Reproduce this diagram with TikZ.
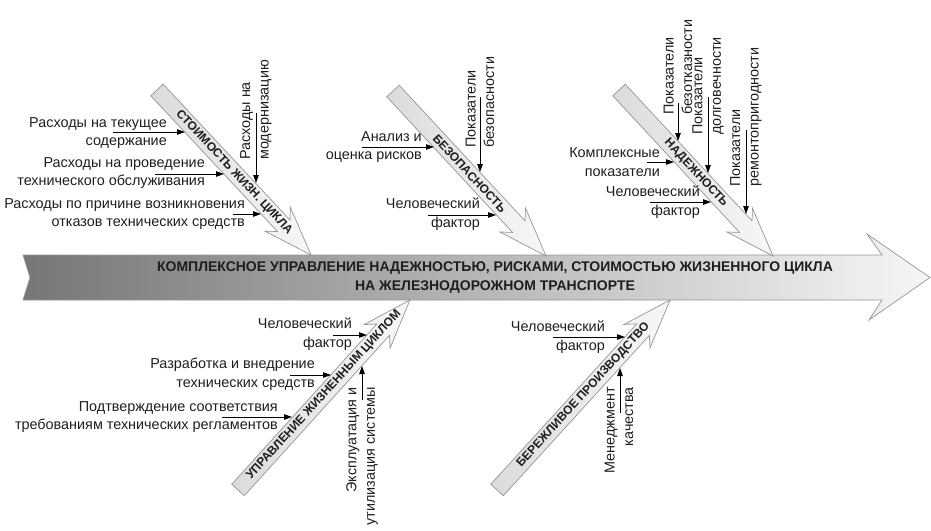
\documentclass[tikz,border=0pt]{standalone}
\usepackage{fontspec}
\setmainfont{Liberation Sans}
\usetikzlibrary{arrows.meta}
\definecolor{maindark}{RGB}{118,118,118}
\definecolor{mainlight}{RGB}{246,246,246}
\definecolor{edgegray}{RGB}{150,150,150}
\definecolor{txt}{RGB}{30,30,30}
\newcommand\fishbone[4]{%
  \draw[bonebody,shift={(#1,#2)},rotate=#3]
    (0,-8.5) -- (#4-40,-8.5) -- (#4-49,-17.5) -- (#4,0) -- (#4-49,17.5) -- (#4-40,8.5) -- (0,8.5) -- cycle;}
\begin{document}
\begin{tikzpicture}[x=1pt,y=-1pt,
  cause/.style={font=\fontsize{14.4}{18.5}\selectfont, inner sep=0pt, text=txt},
  causeR/.style={cause, align=right, anchor=east},
  causeV/.style={cause, align=left, anchor=west, rotate=90},
  causeVb/.style={cause, align=right, anchor=east, rotate=90},
  carrow/.style={line width=0.9pt, black, -{Triangle[length=8pt,width=5.5pt]}},
  bonebody/.style={draw=edgegray, line width=0.7pt, left color=gray!28, right color=gray!6},
  bonelabel/.style={font=\bfseries\fontsize{12}{12}\selectfont, text=txt, inner sep=0pt, sloped},
  mainlabel/.style={font=\bfseries\fontsize{14}{19}\selectfont, text=txt, align=center, inner sep=0pt}
  ]
\useasboundingbox (0,0) rectangle (931,530);

% main arrow
\draw[draw=edgegray, line width=0.7pt, left color=maindark, right color=mainlight]
  (23,255) -- (882,255) -- (867,234) -- (930,277.5) -- (869,320) -- (882,300) -- (23,300) -- (30,277.5) -- cycle;
\node[mainlabel] (main) at (495,277.5) {КОМПЛЕКСНОЕ УПРАВЛЕНИЕ НАДЕЖНОСТЬЮ, РИСКАМИ, СТОИМОСТЬЮ ЖИЗНЕННОГО ЦИКЛА\\НА ЖЕЛЕЗНОДОРОЖНОМ ТРАНСПОРТЕ};

% bones
\coordinate (b1t) at (157,90);  \coordinate (b1h) at (311,255);
\coordinate (b2t) at (393,91);  \coordinate (b2h) at (546,256);
\coordinate (b3t) at (619,90);  \coordinate (b3h) at (773,256);
\coordinate (b4t) at (238,490); \coordinate (b4h) at (410,300);
\coordinate (b5t) at (497,490); \coordinate (b5h) at (670,300);
\fishbone{157}{90}{-46.97}{225.7}
\fishbone{393}{91}{-47.16}{225.0}
\fishbone{619}{90}{-47.15}{226.4}
\fishbone{238}{490}{47.85}{256.3}
\fishbone{497}{490}{47.68}{257.0}
\path (b1t) -- (b1h) node[bonelabel, pos=0.5] (l1) {СТОИМОСТЬ ЖИЗН. ЦИКЛА};
\path (b2t) -- (b2h) node[bonelabel, pos=0.5] (l2) {БЕЗОПАСНОСТЬ};
\path (b3t) -- (b3h) node[bonelabel, pos=0.5] (l3) {НАДЕЖНОСТЬ};
\path (b4t) -- (b4h) node[bonelabel, pos=0.5] (l4) {УПРАВЛЕНИЕ ЖИЗНЕННЫМ ЦИКЛОМ};
\path (b5t) -- (b5h) node[bonelabel, pos=0.5] (l5) {БЕРЕЖЛИВОЕ ПРОИЗВОДСТВО};

% causes: bone 1
\node[causeR] (t11) at (167,133) {Расходы на текущее\\содержание};
\node[causeR] (t12) at (205,173) {Расходы на проведение\\технического обслуживания};
\node[causeR] (t13) at (245,214) {Расходы по причине возникновения\\отказов технических средств};
\node[causeV] (t14) at (256,160) {Расходы на\\модернизацию};
\coordinate (c11s) at (113,132); \coordinate (c11e) at (185,132);
\coordinate (c12s) at (155,174); \coordinate (c12e) at (224,174);
\coordinate (c13s) at (233,214); \coordinate (c13e) at (261,214);
\coordinate (c14s) at (256,113); \coordinate (c14e) at (256,183);
\draw[carrow] (c11s) -- (c11e);
\draw[carrow] (c12s) -- (c12e);
\draw[carrow] (c13s) -- (c13e);
\draw[carrow] (c14s) -- (c14e);

% causes: bone 2
\node[causeR] (t21) at (422,147) {Анализ и\\оценка рисков};
\node[causeR] (t22) at (480,214) {Человеческий\\фактор};
\node[causeV] (t23) at (480,148) {Показатели\\безопасности};
\coordinate (c21s) at (362,147); \coordinate (c21e) at (434,147);
\coordinate (c22s) at (428,215); \coordinate (c22e) at (496,215);
\coordinate (c23s) at (480,97);  \coordinate (c23e) at (480,172);
\draw[carrow] (c21s) -- (c21e);
\draw[carrow] (c22s) -- (c22e);
\draw[carrow] (c23s) -- (c23e);

% causes: bone 3
\node[causeR] (t31) at (660,162) {Комплексные\\показатели};
\node[causeR] (t32) at (700,202) {Человеческий\\фактор};
\node[causeV] (t33) at (678,115) {Показатели\\безотказности};
\node[causeV] (t34) at (708,135) {Показатели\\долговечности};
\node[causeV] (t35) at (746,187) {Показатели\\ремонтопригодности};
\coordinate (c31s) at (647,162); \coordinate (c31e) at (674,162);
\coordinate (c32s) at (650,202); \coordinate (c32e) at (711,202);
\coordinate (c33s) at (678,103); \coordinate (c33e) at (678,141);
\coordinate (c34s) at (708,97);  \coordinate (c34e) at (708,173);
\coordinate (c35s) at (746,130); \coordinate (c35e) at (746,214);
\draw[carrow] (c31s) -- (c31e);
\draw[carrow] (c32s) -- (c32e);
\draw[carrow] (c33s) -- (c33e);
\draw[carrow] (c34s) -- (c34e);
\draw[carrow] (c35s) -- (c35e);

% causes: bone 4
\node[causeR] (t41) at (352,334) {Человеческий\\фактор};
\node[causeR] (t42) at (315,374) {Разработка и внедрение\\технических средств};
\node[causeR] (t43) at (278,417) {Подтверждение соответствия\\требованиям технических регламентов};
\node[causeVb] (t44) at (362,387) {Эксплуатация и\\утилизация системы};
\coordinate (c41s) at (333,335); \coordinate (c41e) at (367,335);
\coordinate (c42s) at (290,375); \coordinate (c42e) at (331,375);
\coordinate (c43s) at (222,417); \coordinate (c43e) at (292,417);
\coordinate (c44s) at (362,400); \coordinate (c44e) at (362,366);
\draw[carrow] (c41s) -- (c41e);
\draw[carrow] (c42s) -- (c42e);
\draw[carrow] (c43s) -- (c43e);
\draw[carrow] (c44s) -- (c44e);

% causes: bone 5
\node[causeR] (t51) at (605,337) {Человеческий\\фактор};
\node[causeVb] (t52) at (619,387) {Менеджмент\\качества};
\coordinate (c51s) at (553,337); \coordinate (c51e) at (625,337);
\coordinate (c52s) at (620,413); \coordinate (c52e) at (620,368);
\draw[carrow] (c51s) -- (c51e);
\draw[carrow] (c52s) -- (c52e);
\end{tikzpicture}
\end{document}
